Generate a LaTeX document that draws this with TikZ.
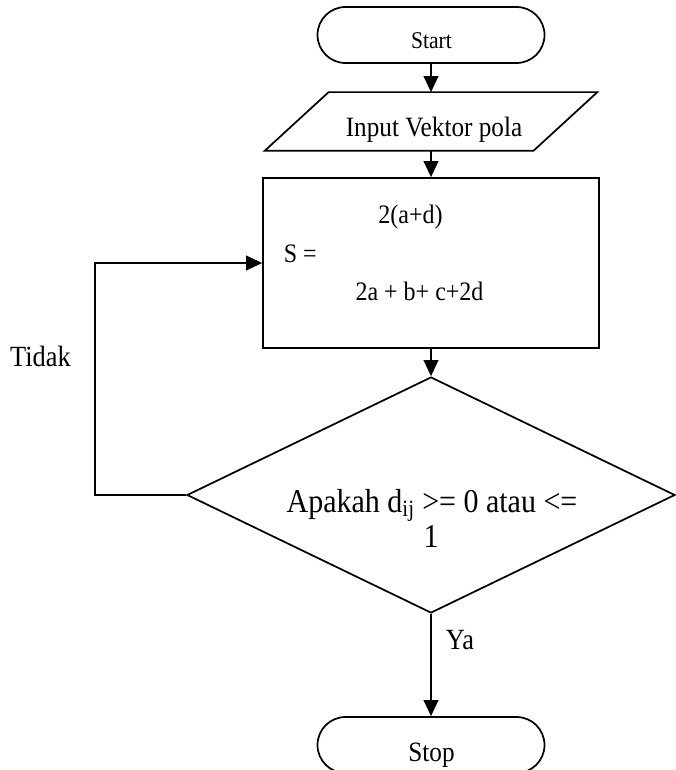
\documentclass[tikz,border=0pt]{standalone}
\usepackage{fontspec}
\setmainfont{Liberation Serif}[FakeStretch=0.9]
\usetikzlibrary{shapes.geometric,shapes.misc,arrows.meta}
\newcommand\fsz[1]{\fontsize{#1}{#1}\selectfont}
\begin{document}
\begin{tikzpicture}[x=0.75pt,y=-0.75pt,
  line width=1.3pt,
  term/.style={draw, rounded rectangle, minimum width=170.25pt, minimum height=42pt, inner sep=0pt},
  iobox/.style={rectangle, minimum width=248.25pt, minimum height=42.75pt, inner sep=0pt},
  proc/.style={draw, rectangle, minimum width=252pt, minimum height=127.5pt, inner sep=0pt},
  decision/.style={draw, diamond, minimum width=366pt, minimum height=177pt, inner sep=0pt},
  txt/.style={inner sep=0pt, anchor=base},
  flow/.style={-{Triangle[length=12pt,width=11pt]}}
]
\useasboundingbox (0,0) rectangle (675,770);

% shapes
\node[term] (start) at (431,35) {};
\node[iobox] (inp) at (431,121.5) {};
\draw ([xshift=48pt]inp.north west) -- (inp.north east)
      -- ([xshift=-48pt]inp.south east) -- (inp.south west) -- cycle;
\node[proc] (proc) at (431,263) {};
\node[decision] (dec) at (431,495) {};
\node[term] (stop) at (431,745) {};
\coordinate (loopx) at (95,0);

% texts
\node[txt, font=\fsz{18}] (tstart) at (431.5,49) {Start};
\node[txt, font=\fsz{21}] (tinp) at (434,137) {Input Vektor pola};
\node[txt, font=\fsz{20}] (tnum) at (410.5,223) {2(a+d)};
\node[txt, font=\fsz{20}, anchor=base west] (ts) at (283,262) {S =};
\node[txt, font=\fsz{20}] (tden) at (419.5,300) {2a + b+ c+2d};
\node[txt, font=\fsz{25}] (tq1) at (432,512) {Apakah d\textsubscript{ij} >= 0 atau <=};
\node[txt, font=\fsz{25}] (tq2) at (431,547) {1};
\node[txt, font=\fsz{22}] (ttidak) at (40.5,366) {Tidak};
\node[txt, font=\fsz{22}] (tya) at (460,649) {Ya};
\node[txt, font=\fsz{21}] (tstop) at (431.5,761) {Stop};

% connectors
\draw[flow] (start) -- (inp);
\draw[flow] (inp) -- (proc);
\draw[flow] (proc) -- (dec);
\draw[flow] (dec) -- (stop);
\draw[flow] (dec.west) -- (dec.west -| loopx) |- (proc.west);
\end{tikzpicture}
\end{document}
